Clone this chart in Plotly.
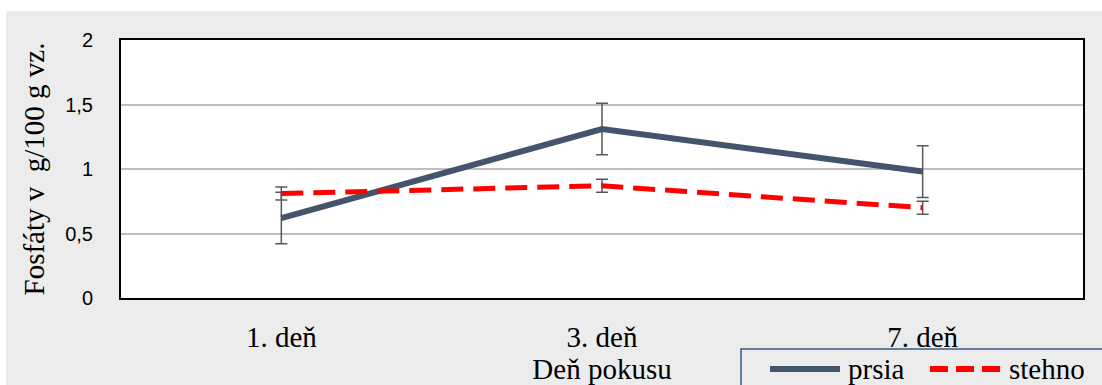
import plotly.graph_objects as go

categories = ["1. deň", "3. deň", "7. deň"]
prsia = [0.62, 1.31, 0.98]
prsia_err = [0.2, 0.2, 0.2]
stehno = [0.81, 0.87, 0.70]
stehno_err = [0.05, 0.05, 0.05]
y_ticks = [0, 0.5, 1, 1.5, 2]
series_names = ["prsia", "stehno"]

L, R, T, B = 121, 19, 40, 87
W, H = 1102, 385
pw, ph = W - L - R, H - T - B
SERIF = "Liberation Serif"

fig = go.Figure()
fig.add_trace(go.Scatter(
    x=categories, y=prsia, name=series_names[0], mode="lines",
    line=dict(color="#44546a", width=6),
    error_y=dict(type="data", array=prsia_err, color="#595959", thickness=1.5, width=6),
))
fig.add_trace(go.Scatter(
    x=categories, y=stehno, name=series_names[1], mode="lines",
    line=dict(color="#ff0000", width=5, dash="22px,10px"),
    error_y=dict(type="data", array=stehno_err, color="#595959", thickness=1.5, width=6),
))

def px2x(px):
    return (px - L) / pw

def px2y(py):
    return (H - B - py) / ph

# outer chart-area background
fig.add_shape(type="rect", xref="paper", yref="paper",
              x0=px2x(7), x1=px2x(1110), y0=px2y(392), y1=px2y(12),
              fillcolor="#ececec", line=dict(color="#dae3f3", width=1), layer="below")
# white plot area
fig.add_shape(type="rect", xref="paper", yref="paper",
              x0=0, x1=1, y0=0, y1=1,
              fillcolor="white", line=dict(width=0), layer="below")

# manual legend
fig.add_shape(type="rect", xref="paper", yref="paper",
              x0=px2x(741), x1=px2x(1110), y0=px2y(395), y1=px2y(349),
              fillcolor="#ececec", line=dict(color="#2f5d8a", width=1.5), layer="below")
fig.add_shape(type="line", xref="paper", yref="paper",
              x0=px2x(770), x1=px2x(840), y0=px2y(369), y1=px2y(369),
              line=dict(color="#44546a", width=6))
fig.add_shape(type="line", xref="paper", yref="paper",
              x0=px2x(930), x1=px2x(1000), y0=px2y(369), y1=px2y(369),
              line=dict(color="#ff0000", width=6, dash="18px,8px"))
fig.add_annotation(text=series_names[0], xref="paper", yref="paper",
                   x=px2x(846), y=px2y(369), xanchor="left", yanchor="middle", showarrow=False,
                   font=dict(family=SERIF, size=29, color="black"))
fig.add_annotation(text=series_names[1], xref="paper", yref="paper",
                   x=px2x(1007), y=px2y(369), xanchor="left", yanchor="middle", showarrow=False,
                   font=dict(family=SERIF, size=29, color="black"))

fig.update_layout(
    width=W, height=H,
    margin=dict(l=L, r=R, t=T, b=B, autoexpand=False),
    paper_bgcolor="white", plot_bgcolor="white",
    separators=", ",
    showlegend=False,
    xaxis=dict(
        type="category", range=[-0.5, 2.5], automargin=False,
        showline=True, linecolor="black", linewidth=2, mirror=True,
        showgrid=False, ticks="", ticklabelstandoff=12,
        tickfont=dict(family=SERIF, size=29, color="black"),
        title=dict(text="Deň pokusu", font=dict(family=SERIF, size=29, color="black"), standoff=0),
    ),
    yaxis=dict(
        range=[0, 2], tickvals=y_ticks, automargin=False,
        showline=True, linecolor="black", linewidth=2, mirror=True,
        showgrid=True, gridcolor="#bfbfbf", gridwidth=1.5,
        zeroline=False, ticks="", ticklabelstandoff=22,
        tickfont=dict(family="Liberation Sans", size=20, color="black"),
        title=dict(text="Fosfáty v \u00a0g/100 g vz.", font=dict(family=SERIF, size=29, color="black"), standoff=12),
    ),
)

fig.write_html("out.html", config={"displayModeBar": False},
               post_script="document.body.style.margin='0';")
